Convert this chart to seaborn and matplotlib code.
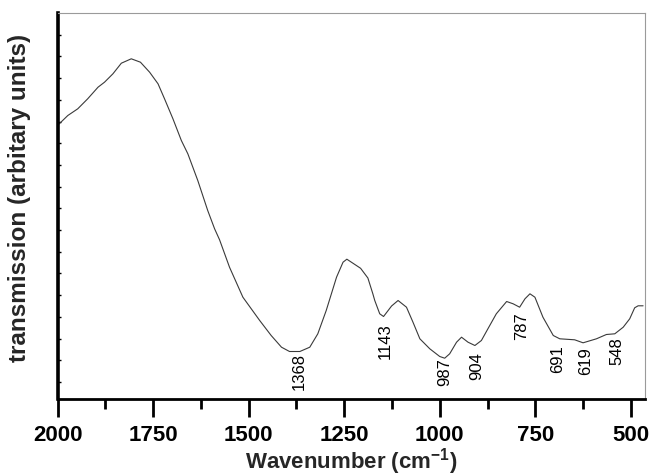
import numpy as np
import pandas as pd
import matplotlib
matplotlib.use("Agg")
import matplotlib.pyplot as plt
import seaborn as sns

# ---- data ----
wavenumber = [2000, 1973, 1947, 1921, 1894, 1877, 1855, 1833, 1807, 1783, 1759, 1737,
              1720, 1698, 1676, 1659, 1633, 1607, 1589, 1576, 1550, 1515, 1471, 1441,
              1414, 1393, 1366, 1340, 1319, 1297, 1270, 1253, 1243, 1207, 1188, 1175,
              1170, 1157, 1147, 1126, 1109, 1087, 1070, 1052, 1026, 1000, 987, 974,
              956, 943, 926, 908, 891, 874, 852, 825, 808, 791, 777, 764, 751, 730,
              703, 686, 647, 625, 590, 564, 542, 520, 503, 490, 481, 468]
transmission = [273, 283, 289.7, 299.7, 311.3, 316.3, 324.7, 335.3, 339.7, 336.3, 326.3, 314.7,
                299.7, 279.7, 258, 244.7, 218, 188, 169.7, 158.7, 131.3, 101.3, 78, 63,
                51.3, 47, 47, 51.3, 64.7, 88, 121.3, 136.3, 139.3, 130.2, 120.5, 104.7,
                98, 84.7, 82, 92.5, 98, 91.3, 76.3, 59.7, 49.7, 42, 40.3, 44.7,
                56.3, 61.3, 56.3, 53, 58, 69.7, 84.7, 97, 94.7, 91.3, 99.7, 104.7, 101.3, 81.3,
                63, 59.7, 58.7, 55.7, 59.7, 64, 64.7, 71.3, 79.7, 90.7, 92.7, 92.7]

band_labels = ["1368", "1143", "987", "904", "787", "691", "619", "548"]
band_positions = [1368, 1143, 987, 904, 787, 691, 619, 548]
label_tops = [45, 75, 40, 46, 86, 53, 51, 61]

x_major = [2000, 1750, 1500, 1250, 1000, 750, 500]

df = pd.DataFrame({"Wavenumber": wavenumber, "Transmission": transmission})

sns.set_theme(style="white")
plt.rcParams['font.family'] = ['Liberation Sans', 'DejaVu Sans']
plt.rcParams['mathtext.fontset'] = 'custom'
plt.rcParams['mathtext.rm'] = 'Liberation Sans'
plt.rcParams['mathtext.bf'] = 'Liberation Sans:bold'

fig = plt.figure(figsize=(6.62, 4.76), dpi=100)
ax = fig.add_axes([57.5 / 662, (476 - 398.5) / 476, (645 - 57.5) / 662, (398.5 - 13) / 476])

sns.lineplot(data=df, x="Wavenumber", y="Transmission", sort=False, ax=ax,
             color="#3a3a3a", linewidth=0.8)

ax.set_xlim(2000, 463)
ax.set_ylim(0, 385.5)

for lab, xp, yt in zip(band_labels, band_positions, label_tops):
    dx = -12 if lab == "548" else 0
    ax.text(xp + dx, yt, lab, rotation=90, ha="center", va="top", fontsize=12,
            color="black")

ax.set_xticks(x_major)
ax.set_xticklabels([str(v) for v in x_major], fontsize=16, fontweight="bold")
ax.set_xticks([1875, 1625, 1375, 1125, 875, 625], minor=True)
ax.tick_params(axis="x", which="major", direction="out", length=13, width=2,
               bottom=True, pad=6, colors="black")
ax.tick_params(axis="x", which="minor", direction="out", length=7, width=2,
               bottom=True, colors="black")

yt_minor = [385.5 - 21.7 * k for k in range(1, 18)]
ax.set_yticks(yt_minor)
ax.set_yticklabels([])
ax.tick_params(axis="y", which="major", direction="in", length=2.5, width=1,
               left=True, colors="black")

ax.set_xlabel(r"Wavenumber (cm$^{\mathbf{-1}}$)", fontsize=16, fontweight="bold",
              labelpad=0)
ax.set_ylabel("transmission (arbitary units)", fontsize=17.5, fontweight="bold")
ax.yaxis.set_label_coords(-0.045, 0.52)

for side in ["top", "right"]:
    ax.spines[side].set_visible(True)
    ax.spines[side].set_color("#9a9a9a")
    ax.spines[side].set_linewidth(0.8)
ax.spines["left"].set_color("black")
ax.spines["left"].set_linewidth(2.6)
ax.spines["bottom"].set_color("black")
ax.spines["bottom"].set_linewidth(2)

fig.savefig("out.png", dpi=100)
